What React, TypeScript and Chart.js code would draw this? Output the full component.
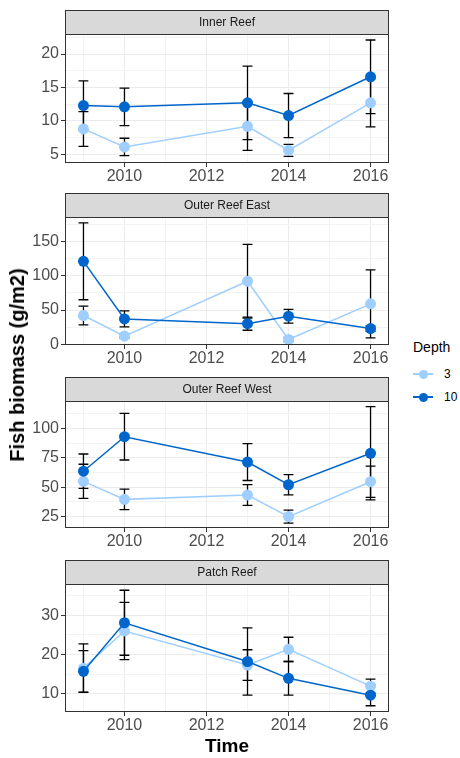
import React, { useEffect, useRef } from "react";
import { Chart, registerables } from "chart.js";

Chart.register(...registerables);

// ---- data -------------------------------------------------------------
const years = [2009, 2010, 2013, 2014, 2016];
const depthLabels = ["3", "10"];
const panelNames = ["Inner Reef", "Outer Reef East", "Outer Reef West", "Patch Reef"];

// Inner Reef
const innerShallow = [8.8, 6.1, 9.2, 5.6, 12.7];
const innerShallowSe = [2.6, 1.3, 3.6, 0.9, 3.6];
const innerDeep = [12.3, 12.1, 12.7, 10.8, 16.6];
const innerDeepSe = [3.7, 2.8, 5.5, 3.3, 5.5];

// Outer Reef East
const eastShallow = [42, 12, 92, 7, 59];
const eastShallowSe = [13.7, 3, 53.8, 3, 49.6];
const eastDeep = [121, 37, 30, 41, 23];
const eastDeepSe = [56, 11.7, 9.5, 10, 4];

// Outer Reef West
const westShallow = [55, 39.7, 43.4, 25.1, 54.7];
const westShallowSe = [14.5, 8.7, 8.8, 5.5, 13.3];
const westDeep = [63.6, 92.9, 71.4, 52.1, 78.8];
const westDeepSe = [14.6, 19.8, 15.7, 8.6, 39.6];

// Patch Reef
const patchShallow = [16.5, 26.0, 17.3, 21.3, 11.9];
const patchShallowSe = [6.2, 7.3, 3.9, 3.1, 1.8];
const patchDeep = [15.7, 28.1, 18.2, 13.9, 9.6];
const patchDeepSe = [5.3, 8.3, 8.6, 4.3, 2.7];

// axis settings per facet
const yMin = [3.7, -1, 15.4, 5.3];
const yMax = [23.0, 185.6, 123.2, 38.0];
const yMajorStep = [5, 50, 25, 10];
const xMin = 2008.55;
const xMax = 2016.45;
const xMajorStep = 2;

const shallowSeries = [innerShallow, eastShallow, westShallow, patchShallow];
const shallowErrors = [innerShallowSe, eastShallowSe, westShallowSe, patchShallowSe];
const deepSeries = [innerDeep, eastDeep, westDeep, patchDeep];
const deepErrors = [innerDeepSe, eastDeepSe, westDeepSe, patchDeepSe];

// ---- styling -----------------------------------------------------------
const LIGHT = "#A0CFFF";
const DARK = "#0066CC";
const FONT = '"Liberation Sans", Arial, Helvetica, sans-serif';
const GRID_MAJOR = "#EBEBEB";
const GRID_MINOR = "#F3F3F3";
const FRAME = "#333333";
const CAP_HALF = 0.12; // half width of error bar caps, in years

// page layout of the facets
const STRIP_H = 24;
const stripTops = [10, 193, 377, 560];
const plotHeights = [129, 128, 127, 128];
const AXIS_LEFT = 65;
const PLOT_RIGHT = 389;
const X_AXIS_H = 30;
const CANVAS_W = 400;

const isMultiple = (v: number, step: number) =>
  Math.abs(v / step - Math.round(v / step)) < 1e-6;

const errorBarPlugin = {
  id: "errorBars",
  beforeDatasetsDraw(chart: any) {
    const { ctx, chartArea: a, scales } = chart;
    const xs = scales.x;
    const ys = scales.y;
    ctx.save();
    ctx.beginPath();
    ctx.rect(a.left, a.top, a.right - a.left, a.bottom - a.top);
    ctx.clip();
    ctx.strokeStyle = "#000000";
    ctx.lineWidth = 1.3;
    chart.data.datasets.forEach((ds: any) => {
      const errs: number[] = ds.errors || [];
      ds.data.forEach((pt: { x: number; y: number }, i: number) => {
        const e = errs[i];
        if (e == null) return;
        const x = xs.getPixelForValue(pt.x);
        const xl = xs.getPixelForValue(pt.x - CAP_HALF);
        const xr = xs.getPixelForValue(pt.x + CAP_HALF);
        const yt = ys.getPixelForValue(pt.y + e);
        const yb = ys.getPixelForValue(pt.y - e);
        ctx.beginPath();
        ctx.moveTo(xl, yt);
        ctx.lineTo(xr, yt);
        ctx.moveTo(x, yt);
        ctx.lineTo(x, yb);
        ctx.moveTo(xl, yb);
        ctx.lineTo(xr, yb);
        ctx.stroke();
      });
    });
    ctx.restore();
  },
};

const facetPlugin = {
  id: "facet",
  afterDraw(chart: any, _args: any, opts: any) {
    const { ctx, chartArea: a } = chart;
    const w = a.right - a.left;
    ctx.save();
    ctx.strokeStyle = FRAME;
    ctx.lineWidth = 1;
    ctx.strokeRect(a.left + 0.5, a.top + 0.5, w - 1, a.bottom - a.top - 1);
    const h = opts.height;
    ctx.fillStyle = "#D9D9D9";
    ctx.fillRect(a.left, a.top - h, w, h);
    ctx.strokeRect(a.left + 0.5, a.top - h + 0.5, w - 1, h);
    ctx.fillStyle = "#1A1A1A";
    ctx.font = `12px ${FONT}`;
    ctx.textAlign = "center";
    ctx.textBaseline = "middle";
    ctx.fillText(opts.text, (a.left + a.right) / 2, a.top - h / 2 + 0.5);
    ctx.restore();
  },
};

function Facet({ index }: { index: number }) {
  const ref = useRef<HTMLCanvasElement | null>(null);

  useEffect(() => {
    if (!ref.current) return;
    const major = yMajorStep[index];
    const makeDataset = (label: string, values: number[], errors: number[], color: string) => ({
      label,
      data: years.map((x, i) => ({ x, y: values[i] })),
      errors,
      borderColor: color,
      backgroundColor: color,
      pointBackgroundColor: color,
      pointBorderColor: color,
      pointBorderWidth: 0,
      pointRadius: 5.5,
      borderWidth: 1.5,
      tension: 0,
    });

    const chart = new Chart(ref.current, {
      type: "line",
      data: {
        datasets: [
          makeDataset(depthLabels[1], deepSeries[index], deepErrors[index], DARK),
          makeDataset(depthLabels[0], shallowSeries[index], shallowErrors[index], LIGHT),
        ] as any,
      },
      options: {
        responsive: false,
        maintainAspectRatio: false,
        animation: false,
        events: [],
        layout: { padding: { top: STRIP_H, right: CANVAS_W - PLOT_RIGHT, bottom: 0, left: 0 } },
        plugins: {
          legend: { display: false },
          tooltip: { enabled: false },
          facet: { text: panelNames[index], height: STRIP_H },
        } as any,
        scales: {
          x: {
            type: "linear",
            min: xMin,
            max: xMax,
            afterFit: (s: any) => {
              s.height = X_AXIS_H;
            },
            border: { display: false },
            grid: {
              color: (c: any) => (c.tick && isMultiple(c.tick.value, xMajorStep) ? GRID_MAJOR : GRID_MINOR),
              lineWidth: 1,
              drawTicks: true,
              tickLength: 4,
              tickWidth: 1,
              tickColor: (c: any) =>
                c.tick && isMultiple(c.tick.value, xMajorStep) ? FRAME : "rgba(0,0,0,0)",
            },
            ticks: {
              stepSize: 1,
              includeBounds: false,
              autoSkip: false,
              maxRotation: 0,
              minRotation: 0,
              padding: 0,
              color: "#4D4D4D",
              font: { size: 16, family: FONT },
              callback: (v: any) => (isMultiple(Number(v), xMajorStep) ? String(v) : ""),
            },
          },
          y: {
            type: "linear",
            min: yMin[index],
            max: yMax[index],
            afterFit: (s: any) => {
              s.width = AXIS_LEFT;
            },
            border: { display: false },
            grid: {
              color: (c: any) => (c.tick && isMultiple(c.tick.value, major) ? GRID_MAJOR : GRID_MINOR),
              lineWidth: 1,
              drawTicks: true,
              tickLength: 4,
              tickWidth: 1,
              tickColor: (c: any) =>
                c.tick && isMultiple(c.tick.value, major) ? FRAME : "rgba(0,0,0,0)",
            },
            ticks: {
              stepSize: major / 2,
              includeBounds: false,
              autoSkip: false,
              padding: 2,
              color: "#4D4D4D",
              font: { size: 16, family: FONT },
              callback: (v: any) => (isMultiple(Number(v), major) ? String(v) : ""),
            },
          },
        },
      },
      plugins: [errorBarPlugin, facetPlugin],
    });
    return () => chart.destroy();
  }, [index]);

  const h = STRIP_H + plotHeights[index] + X_AXIS_H;
  return (
    <canvas
      ref={ref}
      width={CANVAS_W}
      height={h}
      style={{ position: "absolute", left: 0, top: stripTops[index], width: CANVAS_W, height: h }}
    />
  );
}

function LegendKey({ color, label, y }: { color: string; label: string; y: number }) {
  return (
    <>
      <div
        style={{ position: "absolute", left: 413, top: y - 0.75, width: 20, height: 1.5, background: color }}
      />
      <div
        style={{
          position: "absolute",
          left: 418.5,
          top: y - 4.5,
          width: 9,
          height: 9,
          borderRadius: "50%",
          background: color,
        }}
      />
      <div
        style={{
          position: "absolute",
          left: 444,
          top: y - 7,
          height: 14,
          lineHeight: "14px",
          fontSize: 12,
          fontFamily: FONT,
          color: "#000",
        }}
      >
        {label}
      </div>
    </>
  );
}

export default function App() {
  return (
    <div
      style={{
        position: "absolute",
        left: 0,
        top: 0,
        width: 460,
        height: 758,
        background: "#FFFFFF",
        overflow: "hidden",
        fontFamily: FONT,
      }}
    >
      {panelNames.map((_, i) => (
        <Facet key={i} index={i} />
      ))}
      <div
        style={{
          position: "absolute",
          left: 17,
          top: 365,
          transform: "translate(-50%, -50%) rotate(-90deg)",
          whiteSpace: "nowrap",
          fontWeight: "bold",
          fontSize: 20,
          lineHeight: "24px",
          color: "#000",
        }}
      >
        Fish biomass (g/m2)
      </div>
      <div
        style={{
          position: "absolute",
          left: (AXIS_LEFT + PLOT_RIGHT) / 2,
          top: 746,
          transform: "translate(-50%, -50%)",
          whiteSpace: "nowrap",
          fontWeight: "bold",
          fontSize: 19,
          lineHeight: "22px",
          color: "#000",
        }}
      >
        Time
      </div>
      <div
        style={{
          position: "absolute",
          left: 413,
          top: 339,
          height: 16,
          lineHeight: "16px",
          fontSize: 14,
          color: "#000",
        }}
      >
        Depth
      </div>
      <LegendKey color={LIGHT} label={depthLabels[0]} y={374} />
      <LegendKey color={DARK} label={depthLabels[1]} y={397} />
    </div>
  );
}
